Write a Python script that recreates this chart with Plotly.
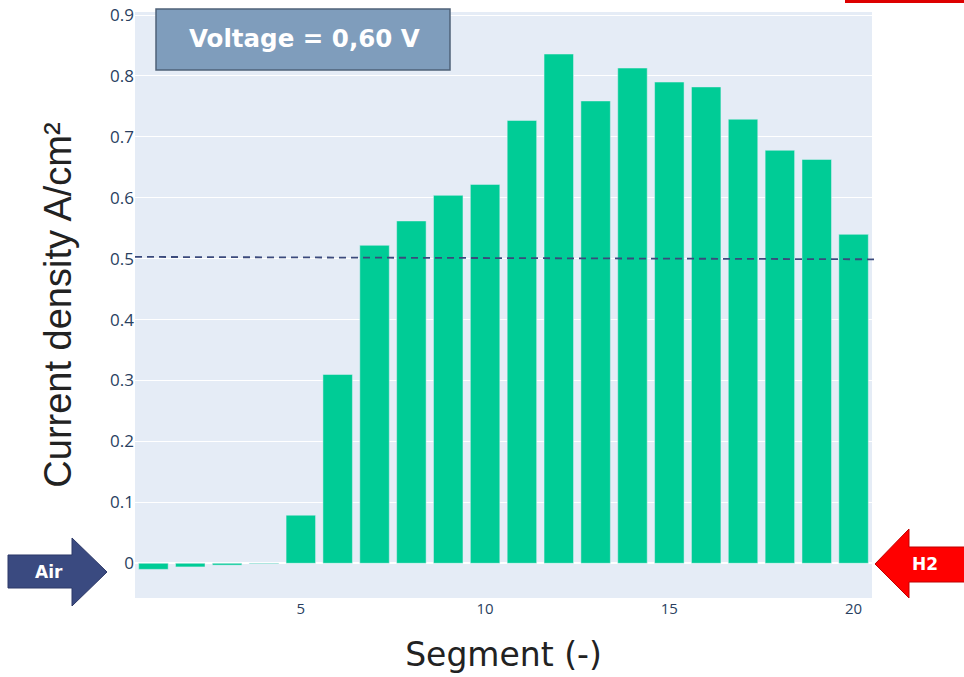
import plotly.graph_objects as go

segments = list(range(1, 21))
current_density = [-0.010, -0.006, -0.003, -0.001, 0.079, 0.310, 0.522, 0.562,
                   0.604, 0.622, 0.727, 0.836, 0.759, 0.813, 0.790, 0.782,
                   0.729, 0.678, 0.663, 0.540]
mean_line = [0.503, 0.499]
y_ticks = [0, 0.1, 0.2, 0.3, 0.4, 0.5, 0.6, 0.7, 0.8, 0.9]
x_ticks = [5, 10, 15, 20]

W, H = 964, 677
L, R, T, B = 135, 92, 12, 79
PW, PH = W - L - R, H - T - B


def px(x):
    return (x - L) / PW


def py(y):
    return (H - B - y) / PH


def path(points):
    return "M " + " L ".join(f"{px(x):.5f},{py(y):.5f}" for x, y in points) + " Z"


fig = go.Figure()
fig.add_trace(go.Bar(x=segments, y=current_density, marker_color="#00cc96",
                     marker_line=dict(color="#E5ECF6", width=0.5)))

shapes = [
    dict(type="line", xref="paper", yref="y", x0=0, x1=px(875),
         y0=mean_line[0], y1=mean_line[1],
         line=dict(color="#3b4a7c", width=1.8, dash="7px,5px")),
    dict(type="rect", xref="paper", yref="paper", x0=px(156), x1=px(450),
         y0=py(70), y1=py(9), fillcolor="#7f9dbc",
         line=dict(color="#4f6178", width=1.5), layer="above"),
    dict(type="rect", xref="paper", yref="paper", x0=px(845), x1=px(964),
         y0=py(3), y1=py(-2), fillcolor="#dd0000", line=dict(width=0)),
    dict(type="path", xref="paper", yref="paper",
         path=path([(8, 555), (72, 555), (72, 538), (107, 572), (72, 606), (72, 588), (8, 588)]),
         fillcolor="#3a4a80", line=dict(color="#2c3868", width=1)),
    dict(type="path", xref="paper", yref="paper",
         path=path([(966, 547), (909, 547), (909, 529), (875, 564), (909, 598), (909, 582), (966, 582)]),
         fillcolor="#ff0000", line=dict(color="#c00000", width=1)),
]

annotations = [
    dict(text="<b>Voltage = 0,60 V</b>", xref="paper", yref="paper",
         x=px(304), y=py(38), xanchor="center", yanchor="middle", showarrow=False,
         font=dict(family="DejaVu Sans", size=24.5, color="white")),
    dict(text="<b>Air</b>", xref="paper", yref="paper", x=px(49), y=py(572),
         xanchor="center", yanchor="middle",
         showarrow=False, font=dict(family="DejaVu Sans", size=17, color="white")),
    dict(text="<b>H2</b>", xref="paper", yref="paper", x=px(925), y=py(564),
         xanchor="center", yanchor="middle",
         showarrow=False, font=dict(family="DejaVu Sans", size=17, color="white")),
]

fig.update_layout(
    template="plotly",
    width=W, height=H,
    margin=dict(l=L, r=R, t=T, b=B, autoexpand=False),
    showlegend=False,
    shapes=shapes,
    annotations=annotations,
    xaxis=dict(range=[0.5, 20.5], tickvals=x_ticks, showgrid=False, automargin=False,
               tickfont=dict(size=15),
               title=dict(text="Segment (-)", font=dict(family="DejaVu Sans", size=33, color="#222"),
                          standoff=25)),
    yaxis=dict(range=[-0.057, 0.905], tickvals=y_ticks, automargin=False,
               ticktext=[("0" if v == 0 else f"{v:.1f}") for v in y_ticks],
               tickfont=dict(size=17),
               title=dict(text="Current density A/cm²",
                          font=dict(family="Liberation Sans", size=38, color="#222"),
                          standoff=26)),
)

fig.write_html("out.html", config={"displayModeBar": False},
               post_script="document.body.style.margin='0px';")
